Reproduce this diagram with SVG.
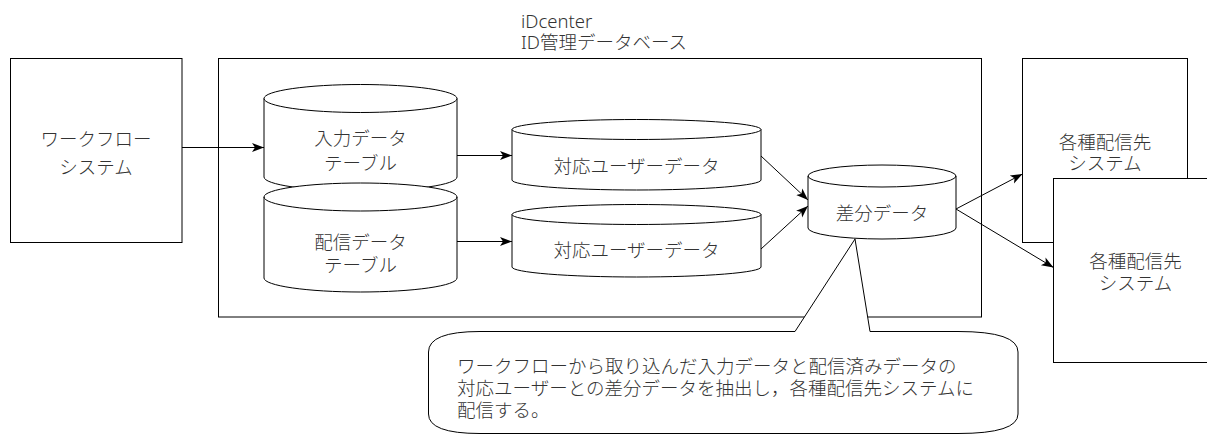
<svg xmlns="http://www.w3.org/2000/svg" width="1207" height="435" viewBox="0 0 1207 435">
  <style>
    .box { fill: #fff; stroke: #000; stroke-width: 1; }
    .cyl { fill: #fff; stroke: #000; stroke-width: 1; }
    .cylin { fill: none; stroke: #000; stroke-width: 1; }
    .lbl { font-family: "Noto Sans", "Noto Sans CJK JP", sans-serif; font-size: 18.5px; font-weight: 300; fill: #333; }
    .c { text-anchor: middle; }
    .edge { fill: none; stroke: #000; stroke-width: 1; marker-end: url(#arr); }
  </style>
  <defs>
    <marker id="arr" markerUnits="userSpaceOnUse" markerWidth="14" markerHeight="12" viewBox="0 0 14 12" refX="12" refY="6" orient="auto">
      <path d="M0,1.5 L12,6 L0,10.5 L3,6 Z" fill="#000"/>
    </marker>
  </defs>
  <rect width="1207" height="435" fill="#fff"/>

  <g id="workflow">
    <rect class="box" x="10.5" y="58.5" width="171.5" height="184"/>
    <text class="lbl c" x="96" y="146">ワークフロー</text>
    <text class="lbl c" x="96" y="173.5">システム</text>
  </g>

  <g id="idcenter">
    <rect class="box" x="218.5" y="58.5" width="763" height="258.5"/>
    <text class="lbl" x="521" y="27.5">iDcenter</text>
    <text class="lbl" x="521" y="48.5">ID管理データベース</text>
  </g>

  <g id="input-table">
    <path class="cyl" d="M264,98.5 A96.5,14 0 0 1 457,98.5 L457,177 A96.5,14 0 0 1 264,177 Z"/>
    <path class="cylin" d="M264,98.5 A96.5,14 0 0 0 457,98.5"/>
    <text class="lbl c" x="360.5" y="144.5">入力データ</text>
    <text class="lbl c" x="360.5" y="170">テーブル</text>
  </g>

  <g id="delivery-table">
    <path class="cyl" d="M264,197 A96.5,14 0 0 1 457,197 L457,278 A96.5,14 0 0 1 264,278 Z"/>
    <path class="cylin" d="M264,197 A96.5,14 0 0 0 457,197"/>
    <text class="lbl c" x="360.5" y="248.5">配信データ</text>
    <text class="lbl c" x="360.5" y="272">テーブル</text>
  </g>

  <g id="user-data-1">
    <path class="cyl" d="M512,129.5 A124.5,10 0 0 1 761,129.5 L761,180 A124.5,10 0 0 1 512,180 Z"/>
    <path class="cylin" d="M512,129.5 A124.5,10 0 0 0 761,129.5"/>
    <text class="lbl c" x="636.5" y="173">対応ユーザーデータ</text>
  </g>

  <g id="user-data-2">
    <path class="cyl" d="M512,214.5 A124.5,10 0 0 1 761,214.5 L761,267 A124.5,10 0 0 1 512,267 Z"/>
    <path class="cylin" d="M512,214.5 A124.5,10 0 0 0 761,214.5"/>
    <text class="lbl c" x="636.5" y="257">対応ユーザーデータ</text>
  </g>

  <g id="diff-data">
    <path class="cyl" d="M808,176 A74,11 0 0 1 956,176 L956,228 A74,11 0 0 1 808,228 Z"/>
    <path class="cylin" d="M808,176 A74,11 0 0 0 956,176"/>
    <text class="lbl c" x="882" y="220">差分データ</text>
  </g>

  <g id="target-system-1">
    <rect class="box" x="1022.5" y="58.5" width="165" height="184"/>
    <text class="lbl c" x="1105" y="148.5">各種配信先</text>
    <text class="lbl c" x="1105" y="170">システム</text>
  </g>

  <g id="target-system-2">
    <rect class="box" x="1053.5" y="178.5" width="165" height="184"/>
    <text class="lbl c" x="1135.5" y="267.5">各種配信先</text>
    <text class="lbl c" x="1135.5" y="290">システム</text>
  </g>

  <g id="connectors">
    <line class="edge" x1="182" y1="147.5" x2="264" y2="147.5"/>
    <line class="edge" x1="457" y1="155.5" x2="512" y2="155.5"/>
    <line class="edge" x1="457" y1="241.5" x2="512" y2="241.5"/>
    <line class="edge" x1="761" y1="156" x2="808" y2="200"/>
    <line class="edge" x1="761" y1="249" x2="808" y2="206"/>
    <line class="edge" x1="956" y1="209" x2="1022.5" y2="174"/>
    <line class="edge" x1="956" y1="209" x2="1053.5" y2="267.5"/>
  </g>

  <g id="callout">
    <path class="box" d="M480,331.5 L795,331.5 L855,239 L870,331.5 L958,331.5 Q1018,331.5 1018,352 L1018,414 Q1018,433.5 958,433.5 L480,433.5 Q428.5,433.5 428.5,414 L428.5,352 Q428.5,331.5 480,331.5 Z"/>
    <text class="lbl" x="457" y="373">ワークフローから取り込んだ入力データと配信済みデータの</text>
    <text class="lbl" x="457" y="395">対応ユーザーとの差分データを抽出し，各種配信先システムに</text>
    <text class="lbl" x="457" y="417">配信する。</text>
  </g>
</svg>
